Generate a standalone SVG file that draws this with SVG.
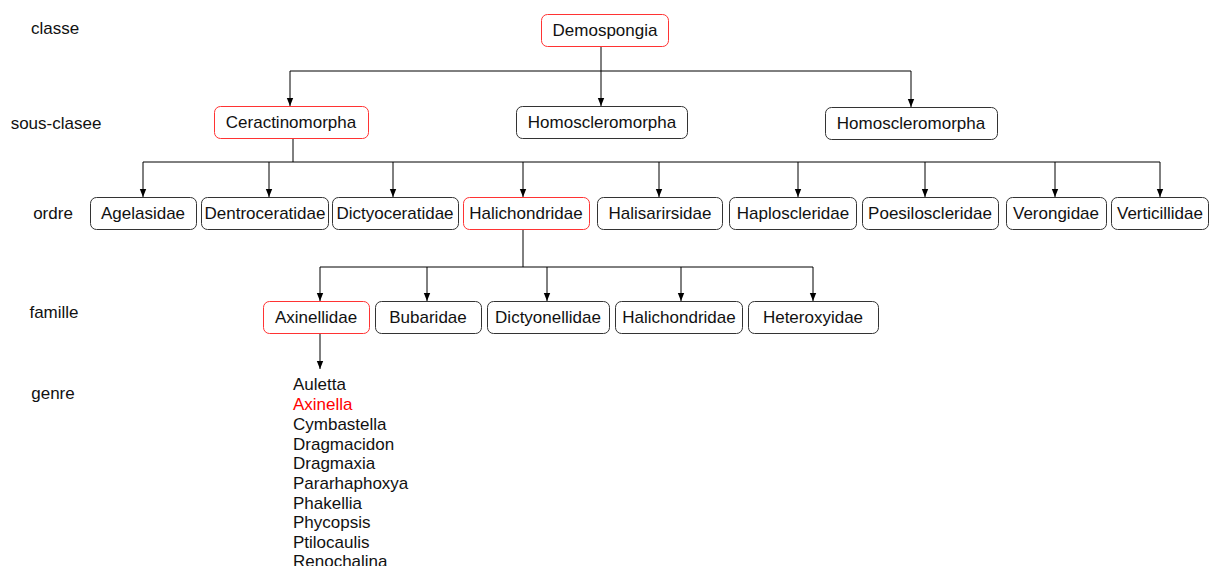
<svg xmlns="http://www.w3.org/2000/svg" width="1210" height="566" viewBox="0 0 1210 566">
<style>
text{font-family:"Liberation Sans",Arial,sans-serif;font-size:17px;fill:#111}
.n rect{fill:#fff;stroke:#333;stroke-width:1}
.r rect{stroke:#f33}
.lbl{text-anchor:middle}
.c path{fill:none;stroke:#000;stroke-width:1}
</style>
<defs>
<marker id="h" markerWidth="8" markerHeight="10" refX="10" refY="4" orient="auto" markerUnits="userSpaceOnUse" viewBox="0 0 10 8"><path d="M0,0 L10,4 L0,8 z" fill="#000"/></marker>
</defs>
<g id="levels">
<text x="55" y="34" class="lbl">classe</text>
<text x="56" y="129" class="lbl">sous-clasee</text>
<text x="53" y="219" class="lbl">ordre</text>
<text x="54" y="318" class="lbl">famille</text>
<text x="53" y="399" class="lbl">genre</text>
</g>
<g class="c" id="connectors">
<path d="M601,46 V71"/>
<path d="M290,71 H911"/>
<path d="M290,71 V106" marker-end="url(#h)"/>
<path d="M601,71 V106" marker-end="url(#h)"/>
<path d="M911,71 V107" marker-end="url(#h)"/>
<path d="M293,139 V162"/>
<path d="M143,162 H1160"/>
<path d="M143,162 V197" marker-end="url(#h)"/>
<path d="M269,162 V197" marker-end="url(#h)"/>
<path d="M393,162 V197" marker-end="url(#h)"/>
<path d="M523,162 V197" marker-end="url(#h)"/>
<path d="M659,162 V197" marker-end="url(#h)"/>
<path d="M798,162 V197" marker-end="url(#h)"/>
<path d="M925,162 V197" marker-end="url(#h)"/>
<path d="M1055,162 V197" marker-end="url(#h)"/>
<path d="M1160,162 V197" marker-end="url(#h)"/>
<path d="M523,230 V267"/>
<path d="M320,267 H813"/>
<path d="M320,267 V301" marker-end="url(#h)"/>
<path d="M427,267 V301" marker-end="url(#h)"/>
<path d="M547,267 V301" marker-end="url(#h)"/>
<path d="M681,267 V301" marker-end="url(#h)"/>
<path d="M813,267 V301" marker-end="url(#h)"/>
<path d="M320,334 V369" marker-end="url(#h)"/>
</g>
<g id="n-demospongia" class="n r"><rect x="541.5" y="14.5" width="127" height="32" rx="6"/><text x="605" y="36" class="lbl">Demospongia</text></g>
<g id="n-ceractinomorpha" class="n r"><rect x="214.5" y="106.5" width="154" height="32" rx="6"/><text x="291" y="128" class="lbl">Ceractinomorpha</text></g>
<g id="n-homo1" class="n"><rect x="516.5" y="106.5" width="171" height="32" rx="6"/><text x="602" y="128" class="lbl">Homoscleromorpha</text></g>
<g id="n-homo2" class="n"><rect x="825.5" y="107.5" width="172" height="32" rx="6"/><text x="911" y="129" class="lbl">Homoscleromorpha</text></g>
<g id="n-agelasidae" class="n"><rect x="90.5" y="197.5" width="106" height="32" rx="6"/><text x="143" y="219" class="lbl">Agelasidae</text></g>
<g id="n-dentroceratidae" class="n"><rect x="201.5" y="197.5" width="127" height="32" rx="6"/><text x="265" y="219" class="lbl">Dentroceratidae</text></g>
<g id="n-dictyoceratidae" class="n"><rect x="332.5" y="197.5" width="126" height="32" rx="6"/><text x="395" y="219" class="lbl">Dictyoceratidae</text></g>
<g id="n-halichondridae-o" class="n r"><rect x="463.5" y="197.5" width="126" height="32" rx="6"/><text x="526" y="219" class="lbl">Halichondridae</text></g>
<g id="n-halisarirsidae" class="n"><rect x="597.5" y="197.5" width="125" height="32" rx="6"/><text x="660" y="219" class="lbl">Halisarirsidae</text></g>
<g id="n-haploscleridae" class="n"><rect x="729.5" y="197.5" width="127" height="32" rx="6"/><text x="793" y="219" class="lbl">Haploscleridae</text></g>
<g id="n-poesiloscleridae" class="n"><rect x="862.5" y="197.5" width="136" height="32" rx="6"/><text x="930" y="219" class="lbl">Poesiloscleridae</text></g>
<g id="n-verongidae" class="n"><rect x="1006.5" y="197.5" width="100" height="32" rx="6"/><text x="1056" y="219" class="lbl">Verongidae</text></g>
<g id="n-verticillidae" class="n"><rect x="1111.5" y="197.5" width="97" height="32" rx="6"/><text x="1160" y="219" class="lbl">Verticillidae</text></g>
<g id="n-axinellidae" class="n r"><rect x="263.5" y="301.5" width="106" height="32" rx="6"/><text x="316" y="323" class="lbl">Axinellidae</text></g>
<g id="n-bubaridae" class="n"><rect x="375.5" y="301.5" width="106" height="32" rx="6"/><text x="428" y="323" class="lbl">Bubaridae</text></g>
<g id="n-dictyonellidae" class="n"><rect x="487.5" y="301.5" width="122" height="32" rx="6"/><text x="548" y="323" class="lbl">Dictyonellidae</text></g>
<g id="n-halichondridae-f" class="n"><rect x="615.5" y="301.5" width="127" height="32" rx="6"/><text x="679" y="323" class="lbl">Halichondridae</text></g>
<g id="n-heteroxyidae" class="n"><rect x="748.5" y="301.5" width="130" height="32" rx="6"/><text x="813" y="323" class="lbl">Heteroxyidae</text></g>
<g id="genres">
<text x="293" y="390">Auletta</text>
<text x="293" y="410" style="fill:#f00">Axinella</text>
<text x="293" y="430">Cymbastella</text>
<text x="293" y="450">Dragmacidon</text>
<text x="293" y="469">Dragmaxia</text>
<text x="293" y="489">Pararhaphoxya</text>
<text x="293" y="509">Phakellia</text>
<text x="293" y="528">Phycopsis</text>
<text x="293" y="548">Ptilocaulis</text>
<text x="293" y="567">Renochalina</text>
</g>
</svg>
